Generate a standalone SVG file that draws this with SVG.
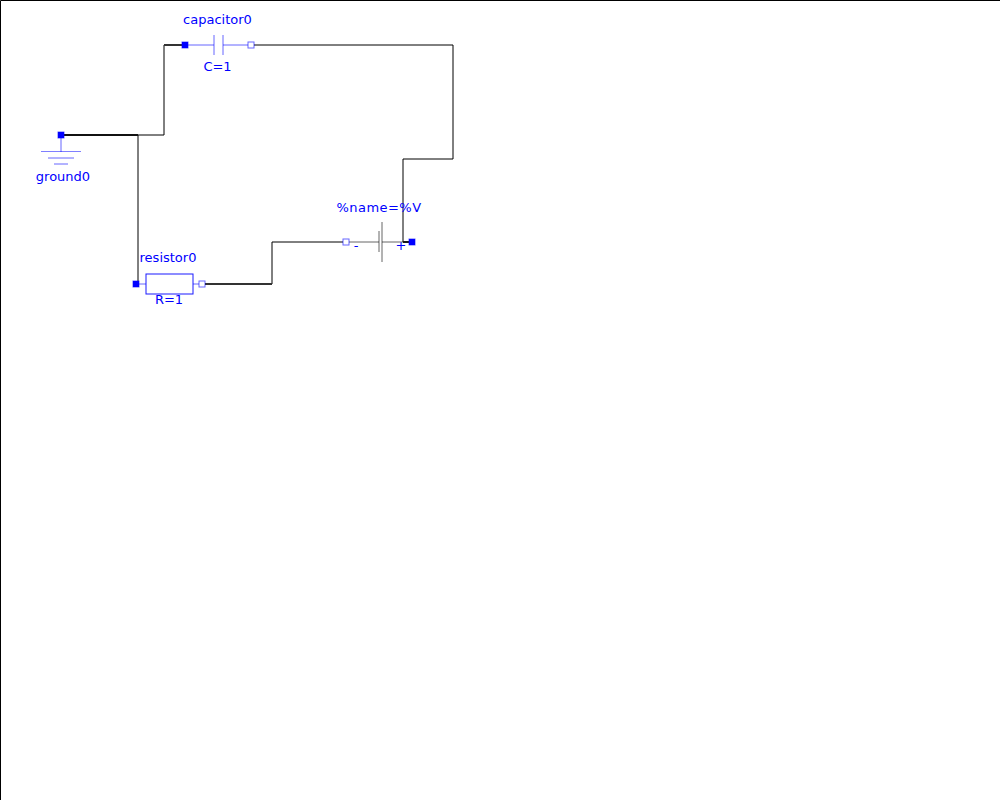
<svg xmlns="http://www.w3.org/2000/svg" width="1000" height="800" viewBox="0 0 1000 800">
<style>
text{font-family:"DejaVu Sans",sans-serif;font-size:13px;fill:#0000ff;text-anchor:middle}
.w{fill:none;stroke:#000;stroke-width:1}
.d{fill:none;stroke:#333;stroke-width:2}
.b{fill:none;stroke:#0000ff;stroke-opacity:.6;stroke-width:1}
.g{fill:none;stroke:#000;stroke-opacity:.6;stroke-width:1}
.on{fill:#0000ff;stroke:#0000ff;stroke-opacity:.6;stroke-width:1}
.off{fill:#fff;stroke:#0000ff;stroke-opacity:.6;stroke-width:1}
</style>
<rect width="1000" height="800" fill="#fff"/>
<path d="M.5 800V.5H1000" fill="none" stroke="#000"/>
<g id="connectors">
<path class="w" d="M138 284V135H164V45"/>
<path class="w" d="M251 45H453V159H403V242"/>
<path class="w" d="M272 284V242H346"/>
<path class="d" style="stroke:#111" d="M61 135H138"/>
<path class="d" d="M164 45H185"/>
<path class="d" d="M202 284H272"/>
<path class="d" style="stroke:#222" d="M403 242H412"/>
</g>
<g id="capacitor0">
<path class="b" d="M185 45H214M214 35V55M223 35V55M223 45H251"/>
<rect class="on" x="182" y="42" width="6" height="6"/>
<rect class="off" x="248" y="42" width="6" height="6"/>
<text x="217.500" y="24">capacitor0</text>
<text x="217.500" y="71">C=1</text>
</g>
<g id="ground0">
<path class="b" d="M61 135V152"/>
<path d="M41 151.500H81" fill="none" stroke="#0000ff" stroke-opacity=".5"/>
<path class="b" d="M48 158H74M54 164H68"/>
<rect class="on" x="58" y="132" width="6" height="6"/>
<text x="63" y="181">ground0</text>
</g>
<g id="resistor0">
<path class="b" d="M136 284H146M193 284H202"/>
<rect x="146" y="274" width="47" height="20" fill="#fff" stroke="#0000ff" stroke-opacity=".9"/>
<rect class="on" x="133" y="281" width="6" height="6"/>
<rect class="off" x="199" y="281" width="6" height="6"/>
<text x="168" y="262">resistor0</text>
<text x="169" y="304">R=1</text>
</g>
<g id="source">
<path class="g" d="M346 242H379M379 231V252M382 222V262M382 242H412"/>
<rect class="on" x="409" y="239" width="6" height="6"/>
<rect class="off" x="343" y="239" width="6" height="6"/>
<text x="379" y="212" letter-spacing=".45">%name=%V</text>
<text x="356" y="250">-</text>
<text x="401" y="250">+</text>
</g>
</svg>
